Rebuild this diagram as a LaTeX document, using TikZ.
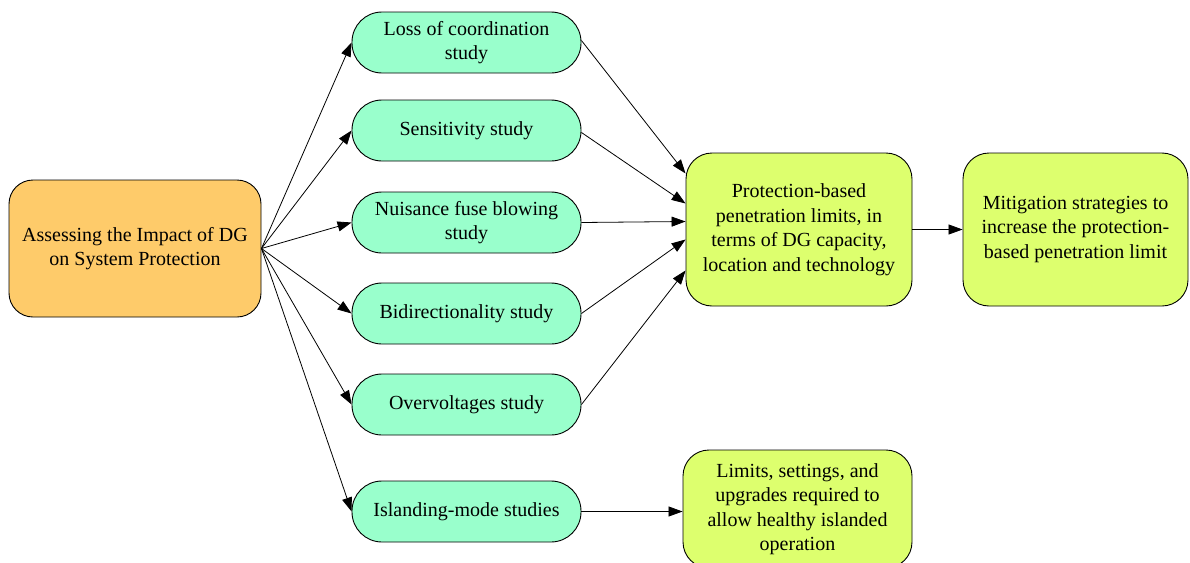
\documentclass[tikz,border=0pt]{standalone}
\usepackage{fontspec}
\setmainfont{Liberation Serif}
\usetikzlibrary{arrows.meta}
\definecolor{startfill}{HTML}{FECB6A}
\definecolor{studyfill}{HTML}{99FFCC}
\definecolor{resultfill}{HTML}{DDFF6E}
\tikzset{
  base/.style={draw=black, line width=0.9pt, align=center, inner sep=2pt,
    font=\fontsize{20}{24.5}\selectfont},
  startbox/.style={base, fill=startfill, rounded corners=24pt,
    minimum width=252pt, minimum height=137pt},
  studybox/.style={base, fill=studyfill, rounded corners=30pt,
    minimum width=229pt, minimum height=61pt},
  resultbox/.style={base, fill=resultfill, rounded corners=26pt,
    minimum width=226pt, minimum height=153pt},
  link/.style={draw=black, line width=0.8pt,
    -{Triangle[length=14pt,width=10pt]}},
}
\begin{document}
\begin{tikzpicture}[x=1pt,y=-1pt]
\useasboundingbox (0,0) rectangle (1190,562);

% source
\node[startbox] (src) at (135,248.5) {Assessing the Impact of DG\\on System Protection};

% individual studies
\node[studybox] (s1) at (466.5,42.5)  {Loss of coordination\\study};
\node[studybox] (s2) at (466.5,130.5) {Sensitivity study};
\node[studybox] (s3) at (466.5,222.5) {Nuisance fuse blowing\\study};
\node[studybox] (s4) at (466.5,313.5) {Bidirectionality study};
\node[studybox] (s5) at (466.5,404.5) {Overvoltages study};
\node[studybox] (s6) at (466.5,511.5) {Islanding-mode studies};

% outcomes
\node[resultbox] (lim) at (799,229.5) {Protection-based\\penetration limits, in\\terms of DG capacity,\\location and technology};
\node[resultbox, minimum width=225pt] (mit) at (1075.5,229.5) {Mitigation strategies to\\increase the protection-\\based penetration limit};
\node[resultbox, minimum width=229pt, minimum height=118pt] (isl) at (797.5,509) {Limits, settings, and\\upgrades required to\\allow healthy islanded\\operation};

% entry points on the left side of the limits box
\coordinate (in1) at ([yshift=56pt]lim.west);
\coordinate (in2) at ([yshift=26pt]lim.west);
\coordinate (in3) at ([yshift=8pt]lim.west);
\coordinate (in4) at ([yshift=-10pt]lim.west);
\coordinate (in5) at ([yshift=-41pt]lim.west);

% fan-out to studies
\foreach \s in {s1,s2,s3,s4,s5,s6}
  \draw[link] (src.east) -- (\s.west);

% studies to limits
\draw[link] ([yshift=2pt]s1.east) -- (in1);
\draw[link] ([yshift=-2pt]s2.east) -- (in2);
\draw[link] (s3.east) -- (in3);
\draw[link] (s4.east) -- (in4);
\draw[link] (s5.east) -- (in5);

\draw[link] (lim.east) -- (mit.west);
\draw[link] (s6.east) -- (isl.west |- s6.east);
\end{tikzpicture}
\end{document}
